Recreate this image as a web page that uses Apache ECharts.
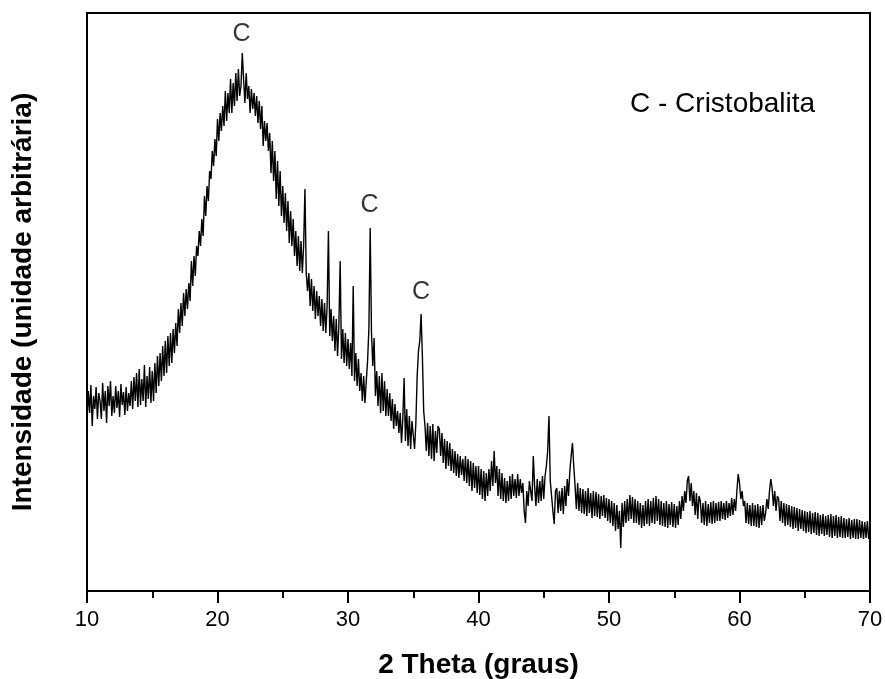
<!DOCTYPE html>
<html>
<head>
<meta charset="utf-8">
<script src="https://cdn.jsdelivr.net/npm/echarts@6/dist/echarts.min.js"></script>
<style>
  html, body { margin: 0; padding: 0; background: #fff; }
  #chart { width: 885px; height: 679px; }
</style>
</head>
<body>
<div id="chart"></div>
<script>
// 2 theta sampling (degrees)
const thetaStart = 10;
const thetaStep = 0.1;

// intensity, one row per degree (10.0 ... 69.9), then 70.0
const intensity = [
  170, 200, 178, 206, 165, 195, 182, 204, 172, 198,
  190, 172, 208, 180, 200, 168, 205, 185, 210, 175,
  195, 178, 205, 183, 200, 174, 207, 186, 199, 176,
  204, 180, 198, 185, 210, 182, 214, 190, 218, 184,
  222, 186, 212, 190, 226, 184, 215, 192, 224, 188,
  220, 190, 228, 198, 235, 205, 238, 210, 245, 215,
  250, 218, 255, 225, 258, 228, 262, 238, 268, 245,
  282, 258, 288, 265, 298, 275, 302, 282, 308, 290,
  330, 305, 335, 315, 345, 335, 360, 345, 372, 355,
  395, 375, 405, 390, 420, 412, 440, 425, 452, 435,
  472, 450, 478, 460, 485, 465, 500, 470, 498, 478,
  512, 478, 508, 485, 518, 490, 522, 495, 505, 538,
  512, 488, 518, 492, 505, 478, 502, 482, 498, 475,
  495, 468, 490, 462, 485, 445, 470, 450, 468, 440,
  458, 418, 450, 410, 440, 392, 430, 385, 420, 375,
  405, 368, 398, 360, 390, 348, 380, 345, 372, 335,
  360, 325, 355, 320, 350, 318, 345, 402, 318, 300,
  318, 285, 312, 280, 305, 272, 300, 275, 295, 265,
  292, 260, 288, 258, 285, 360, 255, 282, 250, 275,
  240, 272, 235, 265, 330, 232, 262, 228, 258, 225,
  252, 222, 248, 215, 305, 210, 238, 205, 232, 200,
  218, 190, 215, 188, 210, 230, 262, 363, 258, 225,
  253, 195, 220, 185, 215, 178, 218, 180, 210, 175,
  202, 175, 198, 170, 192, 162, 187, 165, 180, 158,
  178, 148, 172, 213, 150, 182, 145, 175, 142, 170,
  172, 142, 168, 215, 240, 250, 277, 235, 180, 165,
  140, 168, 135, 165, 132, 167, 130, 160, 138, 165,
  162, 135, 158, 128, 152, 122, 150, 125, 148, 120,
  142, 118, 140, 115, 137, 113, 135, 116, 132, 110,
  135, 108, 132, 105, 130, 100, 128, 103, 125, 98,
  125, 96, 122, 92, 120, 90, 118, 95, 122, 100,
  130, 105, 140, 108, 125, 95, 122, 92, 118, 90,
  113, 88, 110, 90, 115, 92, 117, 95, 112, 93,
  117, 95, 112, 98, 108, 80, 68, 100, 85, 110,
  108, 90, 135, 105, 85, 112, 88, 110, 90, 115,
  92, 115, 125, 140, 175, 110, 95, 80, 67, 100,
  103, 78, 100, 80, 103, 77, 105, 85, 112, 95,
  120, 135, 148, 125, 105, 82, 108, 80, 103, 78,
  102, 77, 100, 75, 103, 78, 98, 73, 100, 75,
  99, 74, 97, 72, 95, 75, 96, 73, 93, 70,
  92, 68, 90, 65, 88, 60, 86, 62, 80, 43,
  88, 64, 90, 68, 92, 70, 96, 72, 94, 68,
  92, 68, 90, 66, 88, 63, 86, 65, 90, 67,
  92, 65, 90, 68, 93, 67, 95, 70, 92, 66,
  90, 65, 88, 64, 90, 63, 87, 66, 89, 64,
  87, 63, 85, 66, 90, 72, 95, 80, 100, 88,
  110, 115, 90, 108, 85, 100, 76, 98, 72, 95,
  90, 68, 88, 66, 90, 65, 87, 68, 89, 67,
  90, 68, 88, 70, 89, 70, 90, 72, 88, 71,
  90, 73, 88, 75, 93, 76, 92, 80, 100, 117,
  108, 92, 100, 85, 90, 68, 88, 67, 86, 65,
  88, 65, 86, 64, 87, 63, 85, 66, 86, 70,
  78, 92, 82, 100, 112, 103, 85, 100, 80, 95,
  92, 70, 90, 68, 88, 65, 87, 66, 86, 64,
  85, 62, 84, 63, 83, 60, 82, 62, 81, 60,
  80, 58, 79, 59, 80, 57, 78, 58, 79, 56,
  78, 55, 76, 57, 77, 55, 75, 56, 76, 54,
  77, 53, 75, 55, 76, 53, 74, 54, 75, 53,
  73, 53, 72, 54, 73, 52, 71, 53, 72, 52,
  72, 52, 71, 53, 70, 52, 69, 53, 70, 52,
  60
];

// cristobalite peak labels (position of the "C" above each peak)
const peakTheta = [21.85, 31.65, 35.6];
const peakLabelI = [557, 386, 299];

const font = "'Liberation Sans', Arial, sans-serif";

const chart = echarts.init(document.getElementById("chart"), null, { renderer: "canvas" });

const lineData = intensity.map((v, i) => [thetaStart + i * thetaStep, v]);
const labelData = peakTheta.map((t, i) => [t, peakLabelI[i]]);

chart.setOption({
  animation: false,
  backgroundColor: "#fff",
  grid: {
    left: 87,
    right: 15,
    top: 13,
    bottom: 88,
    containLabel: false,
    outerBoundsMode: "none",
    show: true,
    borderColor: "#000",
    borderWidth: 2,
  },
  xAxis: {
    type: "value",
    min: 10,
    max: 70,
    interval: 10,
    name: "2 Theta (graus)",
    nameLocation: "middle",
    nameGap: 60,
    nameTextStyle: { fontFamily: font, fontSize: 28, fontWeight: "bold", color: "#000" },
    axisLine: { show: true, lineStyle: { color: "#000", width: 2 } },
    axisTick: { show: true, length: 12, lineStyle: { color: "#000", width: 2 } },
    minorTick: { show: true, splitNumber: 2, length: 7, lineStyle: { color: "#000", width: 2 } },
    axisLabel: { fontFamily: font, fontSize: 22, color: "#000", margin: 18 },
    splitLine: { show: false },
  },
  yAxis: {
    type: "value",
    min: 0,
    max: 578,
    name: "Intensidade (unidade arbitrária)",
    nameLocation: "middle",
    nameGap: 50,
    nameTextStyle: { fontFamily: font, fontSize: 28, fontWeight: "bold", color: "#000" },
    axisLine: { show: true, lineStyle: { color: "#000", width: 2 } },
    axisTick: { show: false },
    axisLabel: { show: false },
    splitLine: { show: false },
  },
  graphic: [
    {
      type: "text",
      left: 630,
      top: 90,
      style: { text: "C - Cristobalita", font: "28px " + font, fill: "#000" },
    },
  ],
  series: [
    {
      type: "line",
      data: lineData,
      showSymbol: false,
      sampling: "none",
      lineStyle: { color: "#000", width: 1.4 },
      itemStyle: { color: "#000" },
    },
    {
      type: "scatter",
      data: labelData,
      symbolSize: 1,
      itemStyle: { color: "rgba(0,0,0,0)" },
      label: {
        show: true,
        position: "inside",
        formatter: "C",
        fontFamily: font,
        fontSize: 25,
        color: "#000",
      },
    },
  ],
});
</script>
</body>
</html>
